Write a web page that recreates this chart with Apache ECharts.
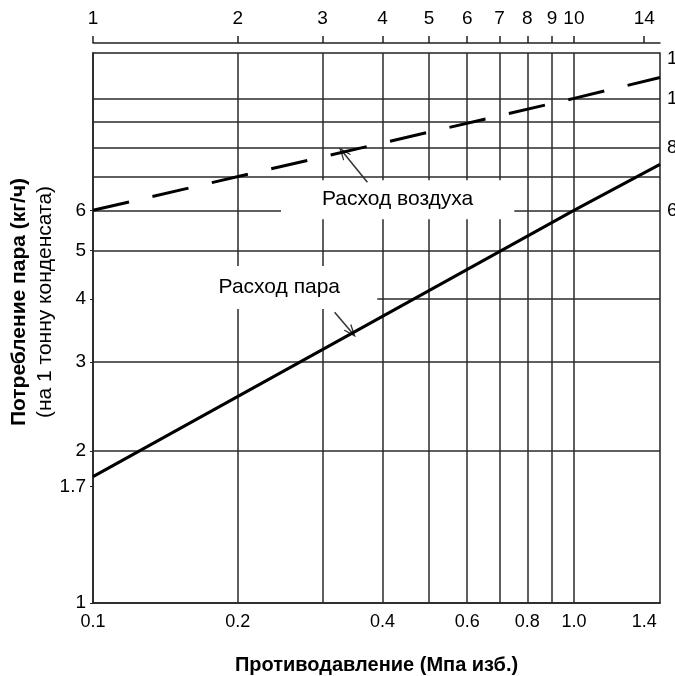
<!DOCTYPE html>
<html>
<head>
<meta charset="utf-8">
<script src="https://cdn.jsdelivr.net/npm/echarts@6/dist/echarts.min.js"></script>
<style>html,body{margin:0;padding:0;background:#fff}#c{width:675px;height:676px}</style>
</head>
<body>
<div id="c"></div>
<script>
// ---- data ----
var xRange = [0.1, 1.51];              // back pressure, MPa (log)
var xTopRange = [1, 15.1];             // same, kgf/cm2 (log)
var yRange = [1, 12.3];                // consumption (log)
var xLabels = [0.1, 0.2, 0.4, 0.6, 0.8, 1.0, 1.4];
var xTopLabels = [1, 2, 3, 4, 5, 6, 7, 8, 9, 10, 14];
var yLeftLabels = [1, 1.7, 2, 3, 4, 5, 6];
var yRightLabels = [6, 8, 10, 12];
var xGrid = [0.2, 0.3, 0.4, 0.5, 0.6, 0.7, 0.8, 0.9, 1.0];
var yGrid = [2, 3, 5, 6, 7, 8, 9, 10];
var yGridPartial = [[0.39, 4]];        // line at 4 starting from x=0.39
var steamX = [0.1, 1.0, 1.51];
var steamY = [1.78, 6.0, 7.4];
var airX = [0.1, 1.0, 1.51];
var airY = [6.0, 10.0, 11.0];
var notes = [
  {text: 'Расход воздуха', x: 0.43, y: 6.3, pad: [9, 41]},
  {text: 'Расход пара', x: 0.244, y: 4.22, pad: [11, 19]}
];
var arrows = [
  {from: [0.372, 6.82], to: [0.331, 7.82]},
  {from: [0.318, 3.77], to: [0.345, 3.44]}
];

var FONT = 'Liberation Sans, Arial, sans-serif';
var CHEVRON = 'path://M5,0 L10,12 L8.7,12 L5,3.6 L1.3,12 L0,12 Z';
function zip(a, b) { return a.map(function (v, i) { return [v, b[i]]; }); }
function fmtX(v) { return Math.abs(v - 1) < 1e-9 ? '1.0' : String(+v.toFixed(2)); }

var gridLines = [];
xGrid.forEach(function (v) { gridLines.push({xAxis: v}); });
yGrid.forEach(function (v) { gridLines.push({yAxis: v}); });
yGridPartial.forEach(function (p) {
  gridLines.push([{coord: [p[0], p[1]]}, {coord: [xRange[1], p[1]]}]);
});

var arrowLines = arrows.map(function (a) {
  return [{coord: a.from}, {coord: a.to}];
});

var chart = echarts.init(document.getElementById('c'), null, {renderer: 'canvas'});
chart.setOption({
  backgroundColor: '#fff',
  animation: false,
  textStyle: {fontFamily: FONT, color: '#000'},
  grid: {left: 93, right: 15, top: 53, bottom: 73, containLabel: false, outerBoundsMode: 'none',
         show: true, borderColor: '#222', borderWidth: 1.5, backgroundColor: 'transparent'},
  xAxis: [{
    type: 'log', logBase: 10, min: xRange[0], max: xRange[1], position: 'bottom',
    axisLine: {show: true, lineStyle: {color: '#222', width: 1.5}},
    axisTick: {show: false},
    splitLine: {show: false},
    minorTick: {show: false},
    axisLabel: {customValues: xLabels, formatter: fmtX, fontSize: 18, color: '#000', margin: 10, fontFamily: FONT},
    name: 'Противодавление (Мпа изб.)', nameLocation: 'middle', nameGap: 52, nameMoveOverlap: false,
    nameTextStyle: {fontSize: 20, fontWeight: 'bold', color: '#000', fontFamily: FONT}
  }, {
    type: 'log', logBase: 10, min: xTopRange[0], max: xTopRange[1], position: 'top', offset: 10,
    axisLine: {show: true, lineStyle: {color: '#222', width: 1.5}},
    axisTick: {show: true, customValues: xTopLabels, length: 7, inside: false, lineStyle: {color: '#222', width: 1.5}},
    splitLine: {show: false},
    axisLabel: {customValues: xTopLabels, formatter: function (v) { return String(Math.round(v)); }, fontSize: 19, color: '#000', margin: 15, fontFamily: FONT}
  }],
  yAxis: [{
    type: 'log', logBase: 10, min: yRange[0], max: yRange[1], position: 'left',
    axisLine: {show: true, lineStyle: {color: '#222', width: 1.5}},
    axisTick: {show: true, customValues: yLeftLabels, length: 3, lineStyle: {color: '#222'}},
    splitLine: {show: false},
    axisLabel: {customValues: yLeftLabels, formatter: function (v) { return String(+v.toFixed(2)); }, fontSize: 19, color: '#000', margin: 7, fontFamily: FONT},
    name: '{a|Потребление пара (кг/ч)}\n{b|(на 1 тонну конденсата)}',
    nameLocation: 'middle', nameRotate: 90, nameGap: 35, nameMoveOverlap: false,
    nameTextStyle: {
      color: '#000', fontFamily: FONT, lineHeight: 26, padding: [0, 0, 0, 52],
      rich: {
        a: {fontSize: 21, fontWeight: 'bold', color: '#000', fontFamily: FONT, lineHeight: 26},
        b: {fontSize: 21, color: '#000', fontFamily: FONT, lineHeight: 26}
      }
    }
  }, {
    type: 'log', logBase: 10, min: yRange[0], max: yRange[1], position: 'right',
    axisLine: {show: false}, axisTick: {show: false}, splitLine: {show: false},
    axisLabel: {customValues: yRightLabels, formatter: function (v) { return String(Math.round(v)); }, fontSize: 19, color: '#000', margin: 7, fontFamily: FONT}
  }],
  series: [{
    name: 'grid', type: 'line', data: [], z: 1, silent: true,
    markLine: {
      z: 1, silent: true, symbol: ['none', 'none'], animation: false,
      label: {show: false},
      lineStyle: {color: '#2a2a2a', width: 1.5, type: 'solid'},
      data: gridLines
    }
  }, {
    name: 'Расход пара', type: 'line', z: 6, showSymbol: false, symbol: 'none',
    data: zip(steamX, steamY),
    lineStyle: {color: '#000', width: 3}
  }, {
    name: 'Расход воздуха', type: 'line', z: 6, showSymbol: false, symbol: 'none',
    data: zip(airX, airY),
    lineStyle: {color: '#000', width: 3, type: [37, 24]}
  }, {
    name: 'notes', type: 'scatter', z: 3, symbolSize: 0, silent: true,
    itemStyle: {opacity: 1},
    data: notes.map(function (n) {
      return {value: [n.x, n.y], label: {show: true, position: 'inside', formatter: n.text, fontSize: 21, color: '#000', fontFamily: FONT, backgroundColor: '#fff', padding: n.pad}};
    }),
    markLine: {
      z: 4, silent: true, symbol: ['none', CHEVRON], symbolSize: [10, 13],
      label: {show: false},
      lineStyle: {color: '#333', width: 1.5, type: 'solid'},
      itemStyle: {color: '#333'},
      data: arrowLines
    }
  }]
});
</script>
</body>
</html>
